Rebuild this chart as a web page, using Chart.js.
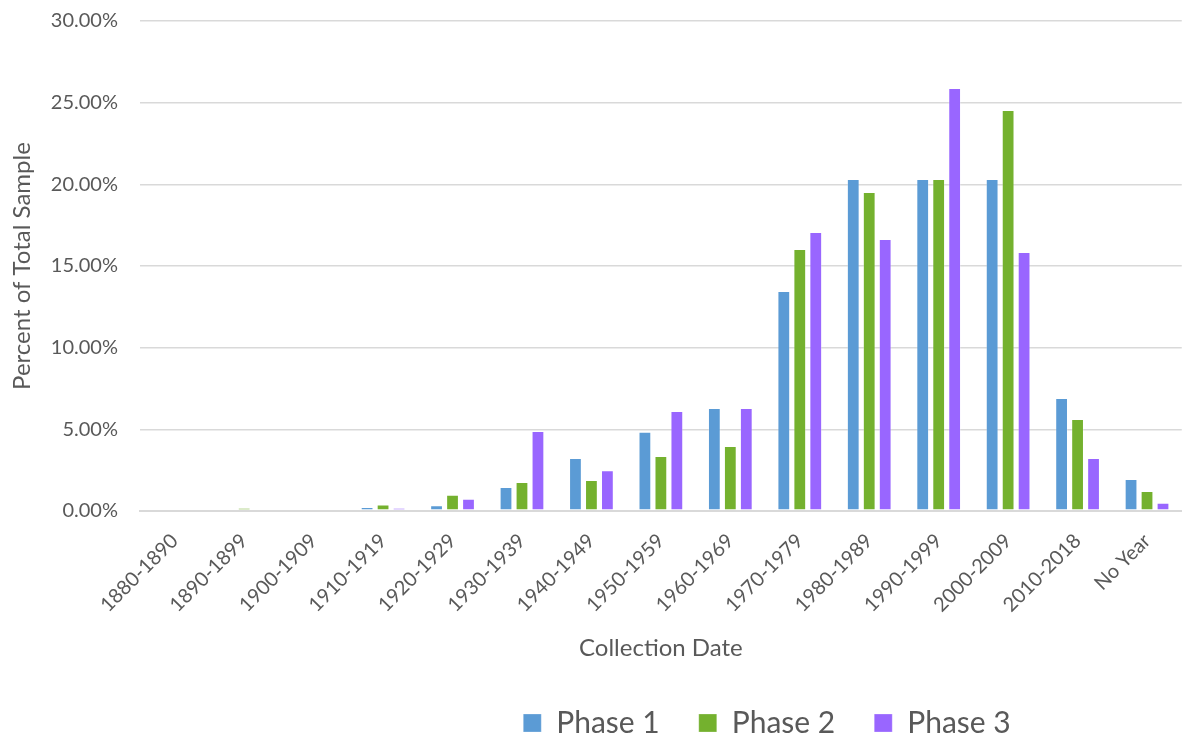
<!DOCTYPE html>
<html>
<head>
<meta charset="utf-8">
<script src="https://cdn.jsdelivr.net/npm/chart.js@4.4.0/dist/chart.umd.min.js"></script>
<style>
  html, body { margin: 0; padding: 0; background: #ffffff; }
  #wrap { width: 1182px; height: 738px; }
</style>
</head>
<body>
<div id="wrap"><canvas id="chart" width="1182" height="738"></canvas></div>
<script>
// Categories and values (percent of total sample)
var decades = ['1880-1890', '1890-1899', '1900-1909', '1910-1919', '1920-1929', '1930-1939', '1940-1949',
               '1950-1959', '1960-1969', '1970-1979', '1980-1989', '1990-1999', '2000-2009', '2010-2018', 'No Year'];
var phase1 = [0, 0.1, 0.1, 0.25, 0.35, 1.47, 3.25, 4.85, 6.3, 13.47, 20.33, 20.33, 20.33, 6.92, 1.96];
var phase2 = [0.05, 0.2, 0, 0.4, 1.0, 1.78, 1.9, 3.37, 3.98, 16.04, 19.53, 20.33, 24.55, 5.63, 1.22];
var phase3 = [0, 0, 0, 0.2, 0.75, 4.9, 2.5, 6.12, 6.3, 17.08, 16.65, 25.9, 15.86, 3.25, 0.5];
var yTicks = [0, 5, 10, 15, 20, 25, 30];

var textColor = '#595959';
var fontFam = 'Lato, "Open Sans", sans-serif';

function series(label, data, color) {
    return {
        label: label,
        data: data,
        backgroundColor: color,
        borderColor: 'rgba(255,255,255,0.25)',
        borderWidth: 1,
        borderSkipped: false,
        categoryPercentage: 0.69,
        barPercentage: 0.8
    };
}

// move the legend: it sits right of centre (and a bit lower) in the reference
var legendShift = {
    id: 'legendShift',
    afterLayout: function(chart) {
        var lg = chart.legend;
        lg.left += 176;
        lg.right += 176;
        lg.top += 10;
        lg.bottom += 10;
    }
};

new Chart(document.getElementById('chart'), {
    type: 'bar',
    data: {
        labels: decades,
        datasets: [
            series('Phase 1', phase1, '#5b9bd5'),
            series('Phase 2', phase2, '#74b12e'),
            series('Phase 3', phase3, '#9966ff')
        ]
    },
    options: {
        responsive: false,
        animation: false,
        layout: { padding: { top: 0, right: 0, left: 0, bottom: 0 } },
        plugins: {
            tooltip: { enabled: false },
            legend: {
                position: 'bottom',
                labels: {
                    color: textColor,
                    font: { family: fontFam, size: 30 },
                    boxWidth: 18,
                    boxHeight: 18,
                    padding: 39
                }
            }
        },
        scales: {
            x: {
                grid: { display: false, drawTicks: false },
                border: { display: true, color: '#d9d9d9', width: 2 },
                ticks: {
                    color: textColor,
                    font: { family: fontFam, size: 20 },
                    minRotation: 45,
                    maxRotation: 45,
                    padding: 18
                },
                title: {
                    display: true,
                    text: 'Collection Date',
                    color: textColor,
                    font: { family: fontFam, size: 24 },
                    padding: { top: 14, bottom: -4 }
                },
                afterFit: function(scale) { scale.height = 148; }
            },
            y: {
                min: 0,
                max: 30,
                afterBuildTicks: function(scale) {
                    scale.ticks = yTicks.map(function(v) { return { value: v }; });
                },
                grid: { color: '#d9d9d9', lineWidth: 1.5, drawTicks: false },
                border: { display: false },
                ticks: {
                    color: textColor,
                    font: { family: fontFam, size: 20 },
                    padding: 22,
                    callback: function(v) { return v.toFixed(2) + '%'; }
                },
                title: {
                    display: true,
                    text: 'Percent of Total Sample',
                    color: textColor,
                    font: { family: fontFam, size: 24 },
                    padding: { top: 8, bottom: 0 }
                },
                afterFit: function(scale) {
                    scale.width = 140;
                    scale.paddingTop = 21; // tick padding would otherwise push the plot down
                }
            }
        }
    },
    plugins: [legendShift]
});
</script>
</body>
</html>
